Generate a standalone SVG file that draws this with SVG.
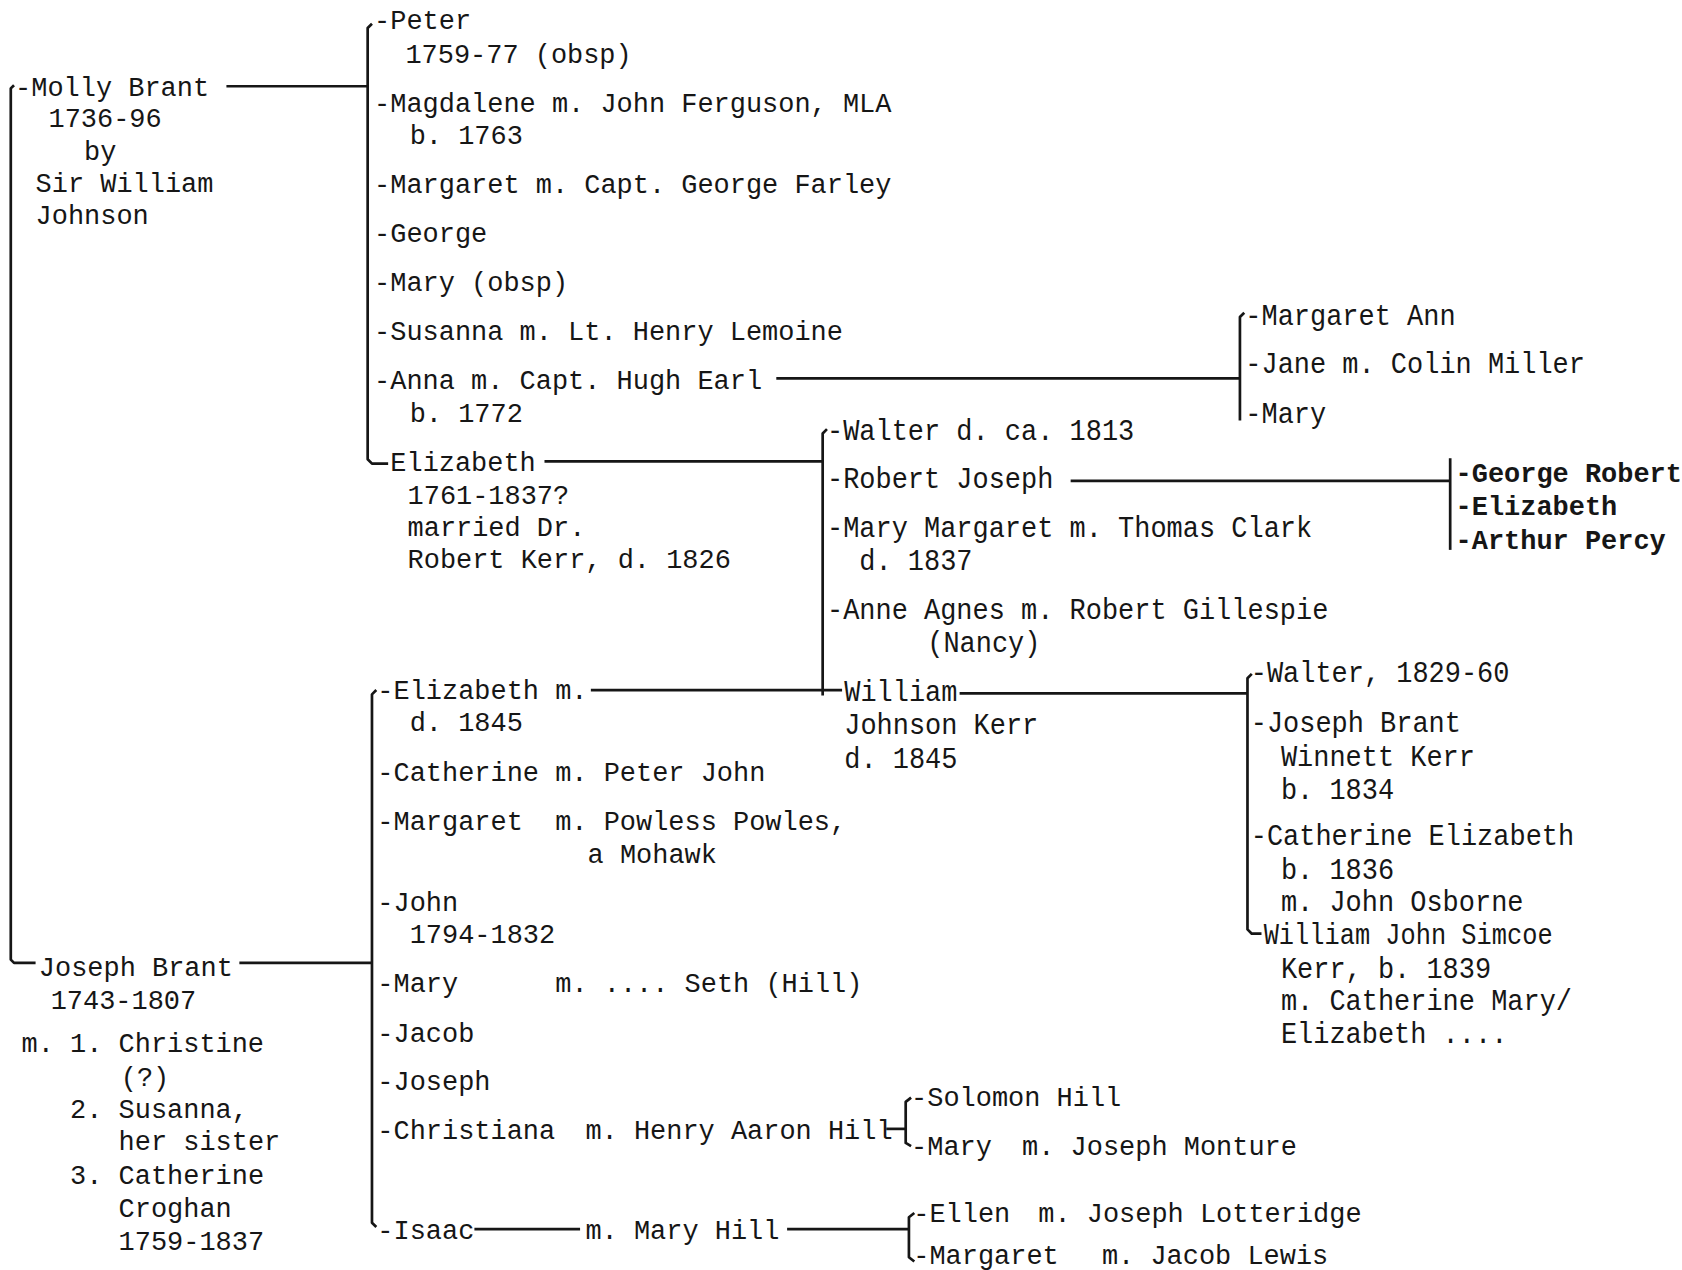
<svg xmlns="http://www.w3.org/2000/svg" width="1682" height="1270" viewBox="0 0 1682 1270">
<style>
.t{font-family:"Liberation Mono","DejaVu Sans Mono",monospace;font-size:25px;fill:#161616;white-space:pre}
.c{font-size:27px}
.b{font-weight:bold}
.ln{stroke:#161616;stroke-width:2.5;fill:none;stroke-linejoin:round}
</style>
<rect width="1682" height="1270" fill="#ffffff"/>
<g transform="scale(1.0782)">
<g id="connectors">
<path class="ln" d="M13,79 L10,82 L10,890 L13,893 L33,893"/>
<path class="ln" d="M210,80 L341,80"/>
<path class="ln" d="M345,22 L341,26 L341,426 L345,430 L360,430"/>
<path class="ln" d="M720,351 L1150,351"/>
<path class="ln" d="M1154,290 L1150,294 L1150,390"/>
<path class="ln" d="M505,428 L763,428"/>
<path class="ln" d="M767,398 L763,402 L763,645"/>
<path class="ln" d="M548,640 L781,640"/>
<path class="ln" d="M993,446 L1345,446"/>
<path class="ln" d="M1345,425 L1345,510"/>
<path class="ln" d="M890,643 L1157,643"/>
<path class="ln" d="M1161,625 L1157,629 L1157,862 L1161,866 L1170,866"/>
<path class="ln" d="M222,893 L345,893"/>
<path class="ln" d="M349,640 L345,644 L345,1134 L349,1138"/>
<path class="ln" d="M822,1047 L840,1047"/>
<path class="ln" d="M845,1018 L840,1022 L840,1060 L845,1063"/>
<path class="ln" d="M440,1140 L538,1140"/>
<path class="ln" d="M730,1140 L843,1140"/>
<path class="ln" d="M848,1125 L843,1129 L843,1166 L848,1170"/>
</g>
<g id="molly">
<text class="t" x="14" y="89">-Molly Brant</text>
<text class="t" x="45" y="118">1736-96</text>
<text class="t" x="78" y="148">by</text>
<text class="t" x="33" y="178">Sir William</text>
<text class="t" x="33" y="208">Johnson</text>
</g>
<g id="molly-children">
<text class="t" x="347" y="27">-Peter</text>
<text class="t" x="376" y="58">1759-77 (obsp)</text>
<text class="t" x="347" y="104">-Magdalene m. John Ferguson, MLA</text>
<text class="t" x="380" y="134">b. 1763</text>
<text class="t" x="347" y="179">-Margaret m. Capt. George Farley</text>
<text class="t" x="347" y="224">-George</text>
<text class="t" x="347" y="270">-Mary (obsp)</text>
<text class="t" x="347" y="315">-Susanna m. Lt. Henry Lemoine</text>
<text class="t" x="347" y="361">-Anna m. Capt. Hugh Earl</text>
<text class="t" x="380" y="391">b. 1772</text>
</g>
<g id="elizabeth-kerr">
<text class="t" x="362" y="437">Elizabeth</text>
<text class="t" x="378" y="467">1761-1837?</text>
<text class="t" x="378" y="497">married Dr.</text>
<text class="t" x="378" y="527">Robert Kerr, d. 1826</text>
</g>
<g id="anna-children">
<text class="t c" x="1155" y="301" textLength="195" lengthAdjust="spacingAndGlyphs">-Margaret Ann</text>
<text class="t c" x="1155" y="346" textLength="315" lengthAdjust="spacingAndGlyphs">-Jane m. Colin Miller</text>
<text class="t c" x="1155" y="392" textLength="75" lengthAdjust="spacingAndGlyphs">-Mary</text>
</g>
<g id="kerr-children">
<text class="t c" x="767" y="408" textLength="285" lengthAdjust="spacingAndGlyphs">-Walter d. ca. 1813</text>
<text class="t c" x="767" y="453" textLength="210" lengthAdjust="spacingAndGlyphs">-Robert Joseph</text>
<text class="t c" x="767" y="498" textLength="450" lengthAdjust="spacingAndGlyphs">-Mary Margaret m. Thomas Clark</text>
<text class="t c" x="797" y="529" textLength="105" lengthAdjust="spacingAndGlyphs">d. 1837</text>
<text class="t c" x="767" y="574" textLength="465" lengthAdjust="spacingAndGlyphs">-Anne Agnes m. Robert Gillespie</text>
<text class="t c" x="860" y="605" textLength="105" lengthAdjust="spacingAndGlyphs">(Nancy)</text>
</g>
<g id="william-johnson-kerr">
<text class="t c" x="783" y="650" textLength="105" lengthAdjust="spacingAndGlyphs">William</text>
<text class="t c" x="783" y="681" textLength="180" lengthAdjust="spacingAndGlyphs">Johnson Kerr</text>
<text class="t c" x="783" y="712" textLength="105" lengthAdjust="spacingAndGlyphs">d. 1845</text>
</g>
<g id="robert-joseph-children">
<text class="t b" x="1350" y="447">-George Robert</text>
<text class="t b" x="1350" y="478">-Elizabeth</text>
<text class="t b" x="1350" y="509">-Arthur Percy</text>
</g>
<g id="william-children">
<text class="t c" x="1160" y="633" textLength="240" lengthAdjust="spacingAndGlyphs">-Walter, 1829-60</text>
<text class="t c" x="1160" y="679" textLength="195" lengthAdjust="spacingAndGlyphs">-Joseph Brant</text>
<text class="t c" x="1188" y="710" textLength="180" lengthAdjust="spacingAndGlyphs">Winnett Kerr</text>
<text class="t c" x="1188" y="741" textLength="105" lengthAdjust="spacingAndGlyphs">b. 1834</text>
<text class="t c" x="1160" y="784" textLength="300" lengthAdjust="spacingAndGlyphs">-Catherine Elizabeth</text>
<text class="t c" x="1188" y="815" textLength="105" lengthAdjust="spacingAndGlyphs">b. 1836</text>
<text class="t c" x="1188" y="845" textLength="225" lengthAdjust="spacingAndGlyphs">m. John Osborne</text>
<text class="t c" x="1172" y="876" textLength="268" lengthAdjust="spacingAndGlyphs">William John Simcoe</text>
<text class="t c" x="1188" y="907" textLength="195" lengthAdjust="spacingAndGlyphs">Kerr, b. 1839</text>
<text class="t c" x="1188" y="937" textLength="270" lengthAdjust="spacingAndGlyphs">m. Catherine Mary/</text>
<text class="t c" x="1188" y="967" textLength="210" lengthAdjust="spacingAndGlyphs">Elizabeth ....</text>
</g>
<g id="joseph-brant">
<text class="t" x="36" y="905">Joseph Brant</text>
<text class="t" x="47" y="936">1743-1807</text>
<text class="t" x="20" y="976">m. 1. Christine</text>
<text class="t" x="112" y="1007">(?)</text>
<text class="t" x="65" y="1037">2. Susanna,</text>
<text class="t" x="110" y="1067">her sister</text>
<text class="t" x="65" y="1098">3. Catherine</text>
<text class="t" x="110" y="1129">Croghan</text>
<text class="t" x="110" y="1159">1759-1837</text>
</g>
<g id="joseph-children">
<text class="t" x="350" y="648">-Elizabeth m.</text>
<text class="t" x="380" y="678">d. 1845</text>
<text class="t" x="350" y="724">-Catherine m. Peter John</text>
<text class="t" x="350" y="770">-Margaret  m. Powless Powles,</text>
<text class="t" x="545" y="800">a Mohawk</text>
<text class="t" x="350" y="845">-John</text>
<text class="t" x="380" y="875">1794-1832</text>
<text class="t" x="350" y="920">-Mary<tspan x="515">m. .... Seth (Hill)</tspan></text>
<text class="t" x="350" y="966">-Jacob</text>
<text class="t" x="350" y="1011">-Joseph</text>
<text class="t" x="350" y="1056">-Christiana<tspan x="543">m. Henry Aaron Hill</tspan></text>
<text class="t" x="350" y="1149">-Isaac</text>
<text class="t" x="543" y="1149">m. Mary Hill</text>
</g>
<g id="christiana-children">
<text class="t" x="845" y="1026">-Solomon Hill</text>
<text class="t" x="845" y="1071">-Mary<tspan x="948">m. Joseph Monture</tspan></text>
</g>
<g id="isaac-children">
<text class="t" x="847" y="1133">-Ellen<tspan x="963">m. Joseph Lotteridge</tspan></text>
<text class="t" x="847" y="1172">-Margaret<tspan x="1022">m. Jacob Lewis</tspan></text>
</g>
</g>
</svg>
